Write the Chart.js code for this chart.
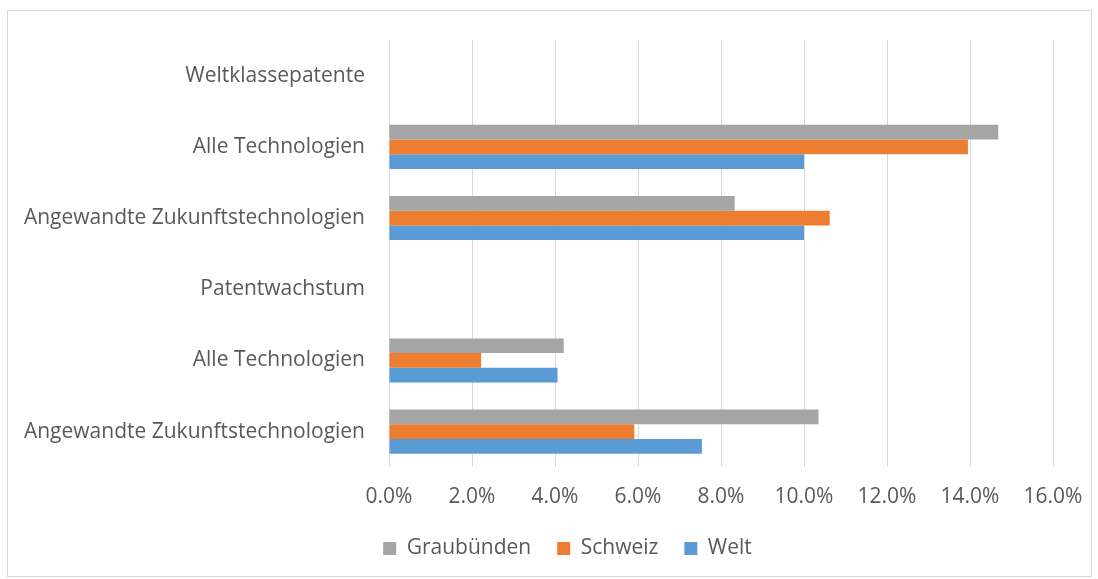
<!DOCTYPE html>
<html><head><meta charset="utf-8">
<script src="https://cdn.jsdelivr.net/npm/chart.js@4/dist/chart.umd.min.js"></script>
<style>
html,body{margin:0;padding:0;background:#fff;}
#box{position:absolute;left:7px;top:10px;width:1083px;height:565px;border:1px solid #d9d9d9;}
canvas{display:block;}
</style></head><body>
<div id="box"><canvas id="c" width="1083" height="565"></canvas></div>
<script>
const categories = ["Weltklassepatente","Alle Technologien","Angewandte Zukunftstechnologien","Patentwachstum","Alle Technologien","Angewandte Zukunftstechnologien"];
const graubuenden = [null, 14.68, 8.33, null, 4.21, 10.35];
const schweiz = [null, 13.95, 10.62, null, 2.22, 5.91];
const welt = [null, 10.0, 10.0, null, 4.06, 7.54];
const xTicks = [0,2,4,6,8,10,12,14,16];

const FONT = "'Open Sans', sans-serif";
Chart.defaults.font.family = FONT;
Chart.defaults.color = '#595959';

const legendShift = {
  id: 'legendShift',
  afterLayout(chart) {
    const lg = chart.legend;
    if (lg) { lg.left += 37; lg.right += 37; }
  }
};

new Chart(document.getElementById('c'), {
  type: 'bar',
  data: {
    labels: categories,
    datasets: [
      {label:'Graubünden', data: graubuenden, backgroundColor:'#A5A5A5'},
      {label:'Schweiz', data: schweiz, backgroundColor:'#ED7D31'},
      {label:'Welt', data: welt, backgroundColor:'#5B9BD5'}
    ]
  },
  plugins: [legendShift],
  options: {
    indexAxis: 'y',
    responsive: false,
    animation: false,
    datasets: {bar:{categoryPercentage:0.62, barPercentage:1.0}},
    layout: {padding:{top:29, right:38, left:0, bottom:7}},
    scales: {
      x: {
        min: 0, max: 16,
        afterBuildTicks: (ax) => { ax.ticks = xTicks.map(v => ({value:v})); },
        afterFit: (ax) => { ax.height = ax.height - 14.5; ax.paddingLeft = 0; ax.paddingRight = 0; },
        ticks: {callback: v => v.toFixed(1) + '%', font:{size:21}, color:'#595959', padding:17},
        grid: {color:'#d9d9d9', lineWidth:1, drawTicks:false},
        border: {display:false}
      },
      y: {
        afterFit: (ax) => { ax.width = 381; ax.paddingTop = 0; ax.paddingBottom = 0; },
        ticks: {font:{size:21}, color:'#595959', padding:24},
        grid: {display:false, drawTicks:false},
        border: {display:false}
      }
    },
    plugins: {
      legend: {
        position:'bottom',
        labels:{boxWidth:13, boxHeight:13, font:{size:21}, color:'#595959', padding:26}
      },
      tooltip:{enabled:false}
    }
  }
});
</script>
</body></html>
